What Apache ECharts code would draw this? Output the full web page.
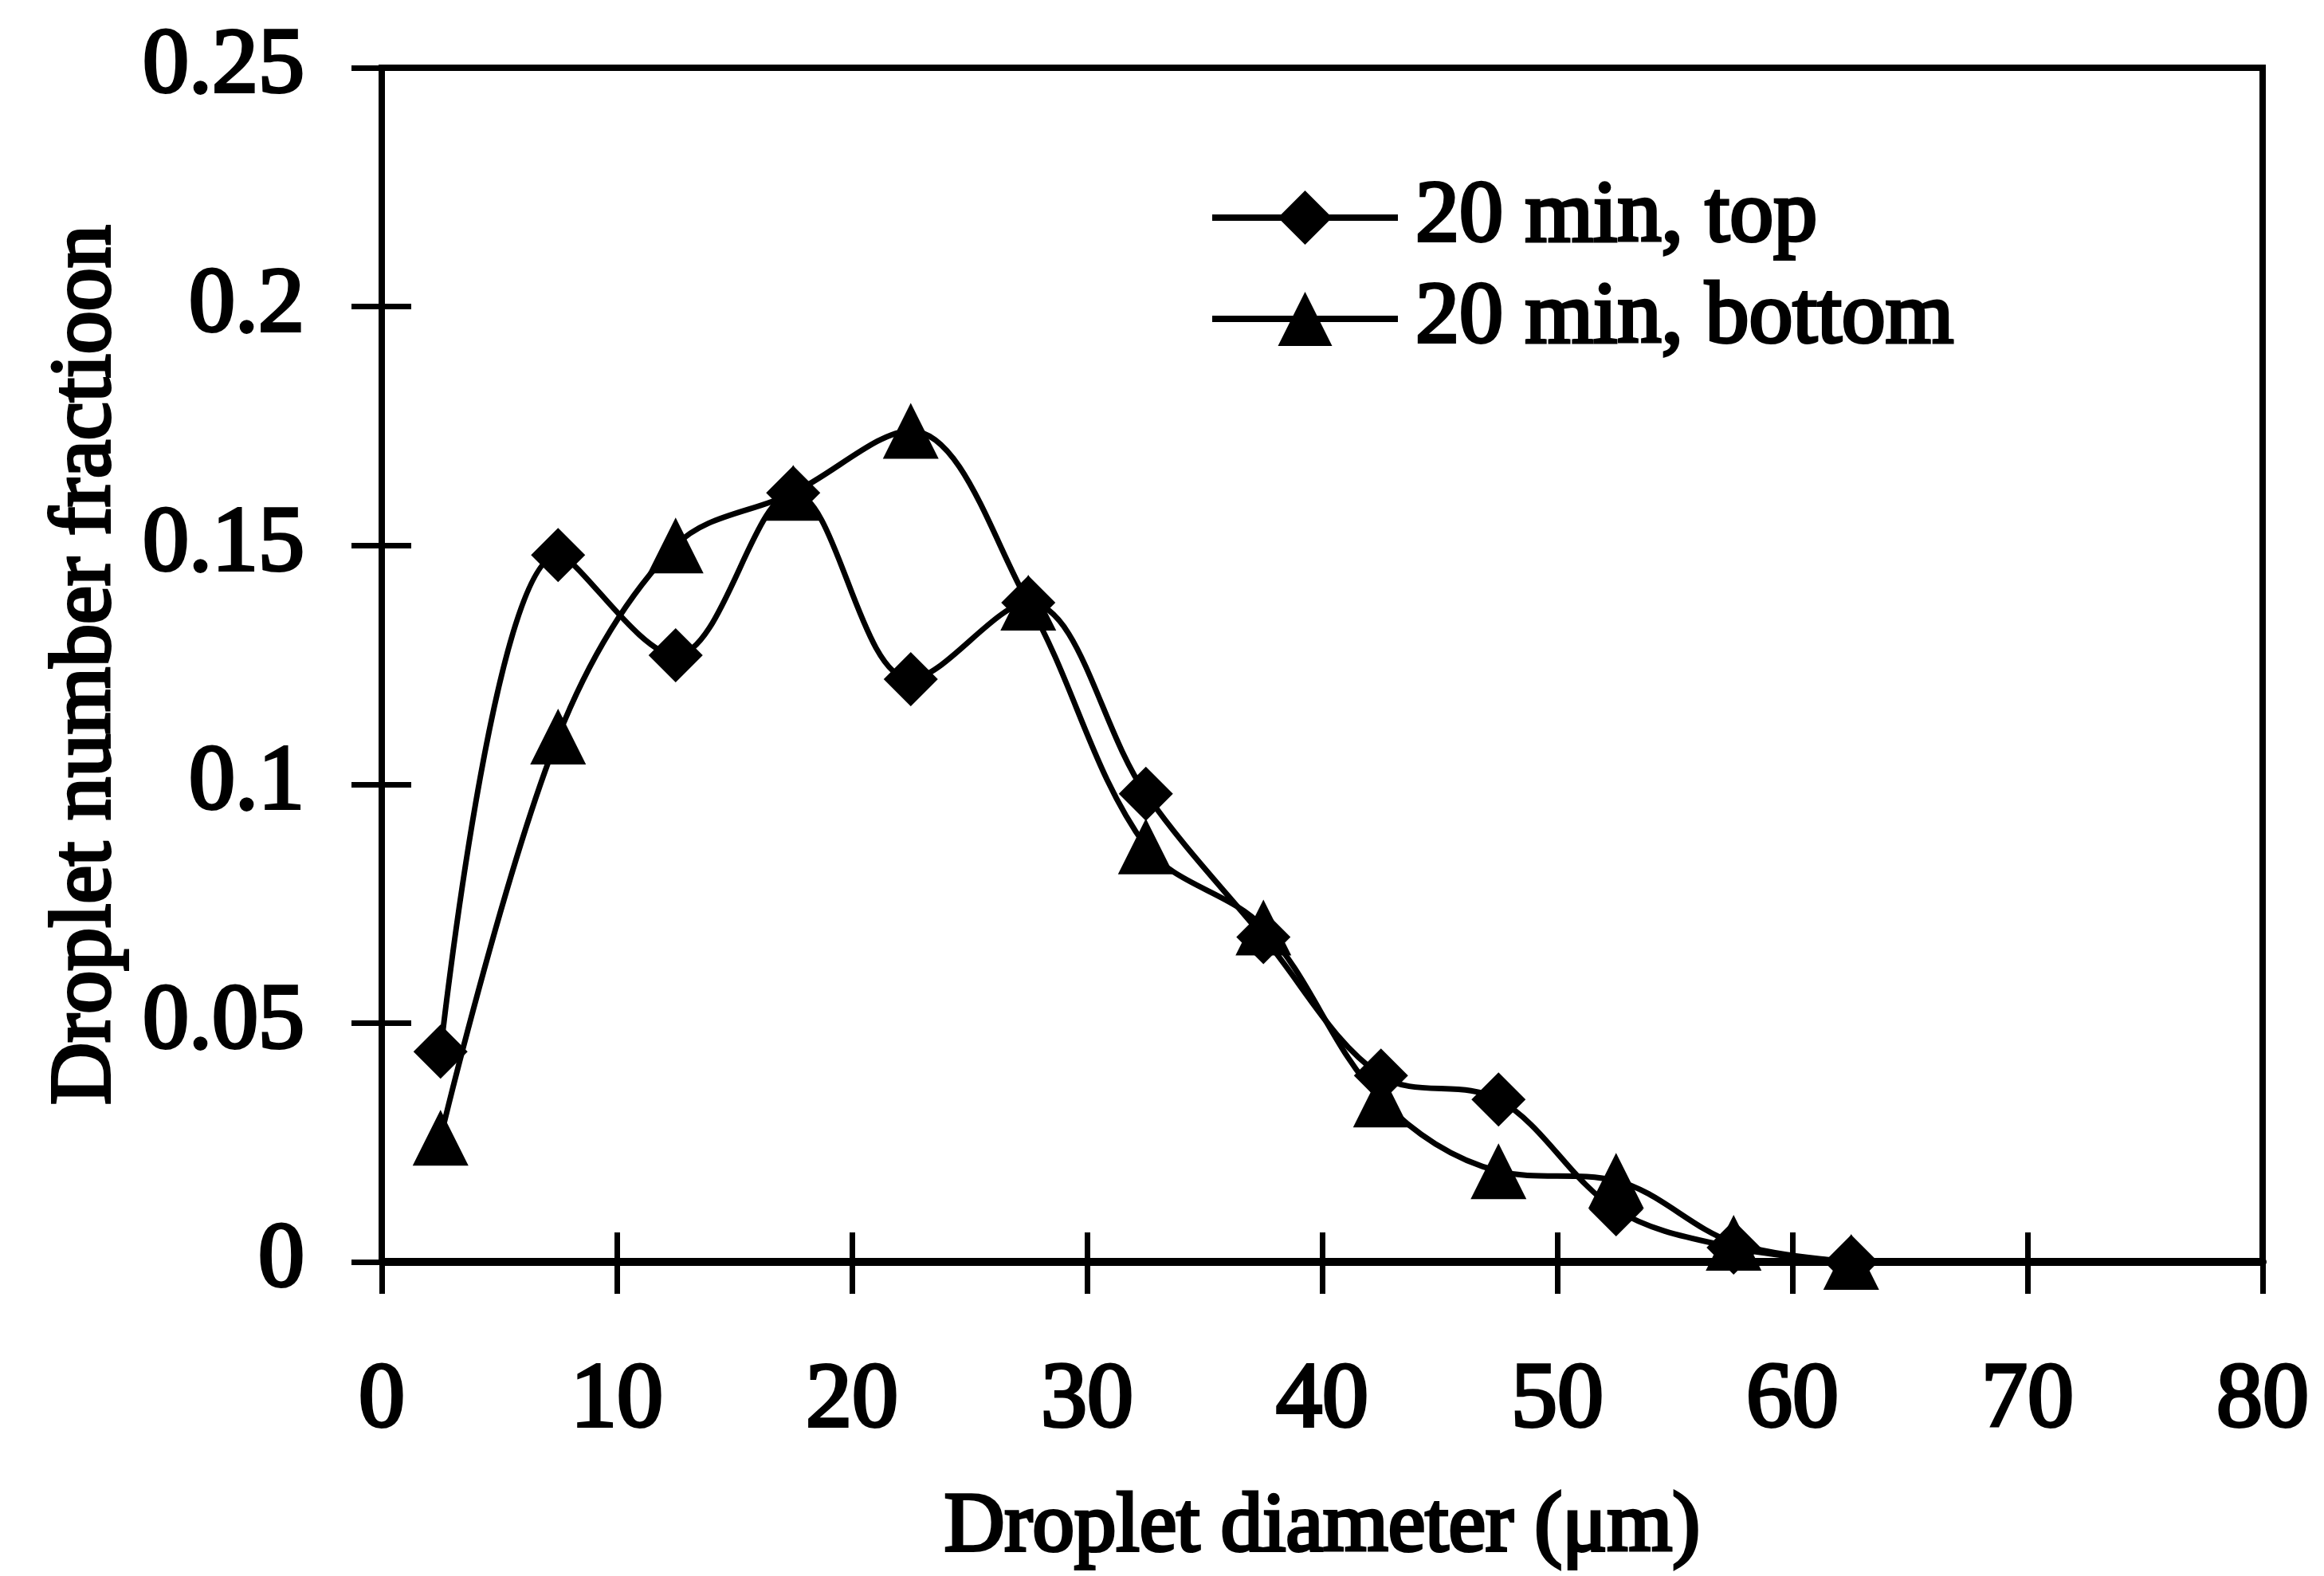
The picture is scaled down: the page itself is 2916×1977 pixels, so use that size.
<!DOCTYPE html>
<html>
<head>
<meta charset="utf-8">
<script src="https://cdn.jsdelivr.net/npm/echarts@6/dist/echarts.min.js"></script>
<style>
  html, body { margin: 0; padding: 0; background: #ffffff; }
  #chart { width: 2916px; height: 1977px; }
</style>
</head>
<body>
<div id="chart"></div>
<script>
// Droplet size classes (bin centres, µm)
const diameters = [2.5, 7.5, 12.5, 17.5, 22.5, 27.5, 32.5, 37.5, 42.5, 47.5, 52.5, 57.5, 62.5];
// Number fraction of droplets per class
const fractionTop    = [0.044, 0.148, 0.127, 0.161, 0.122, 0.138, 0.098, 0.068, 0.039, 0.034, 0.011, 0.003, 0.000];
const fractionBottom = [0.026, 0.110, 0.150, 0.161, 0.174, 0.138, 0.087, 0.070, 0.034, 0.019, 0.017, 0.004, 0.000];
const seriesNames = ['20 min, top', '20 min, bottom'];
// Axis ranges: [min, max, step]
const xRange = [0, 80, 10];
const yRange = [0, 0.25, 0.05];

const FONT = "'Liberation Serif', 'Times New Roman', serif";
const INK = '#000000';
// Heavy serif lettering: a thin outline in the text colour thickens the strokes
const heavy = { textBorderColor: INK, textBorderWidth: 4 };

const chart = echarts.init(document.getElementById('chart'), null, { renderer: 'canvas' });

const baseX = { type: 'value', min: xRange[0], max: xRange[1], interval: xRange[2], splitLine: { show: false } };
const baseY = { type: 'value', min: yRange[0], max: yRange[1], interval: yRange[2], splitLine: { show: false } };

chart.setOption({
  backgroundColor: '#ffffff',
  animation: false,
  grid: {
    left: 479, top: 85, width: 2360, height: 1498,
    show: true, borderColor: INK, borderWidth: 8, backgroundColor: 'transparent',
    outerBoundsMode: 'none'
  },
  legend: {
    orient: 'vertical',
    left: 1517, top: 216,
    padding: 0,
    itemWidth: 233, itemHeight: 85, itemGap: 13,
    lineStyle: { width: 8, color: INK },
    textStyle: Object.assign({ fontFamily: FONT, fontSize: 110, color: INK, padding: [0, 0, 0, 17] }, heavy),
    data: seriesNames
  },
  xAxis: [
    Object.assign({}, baseX, {
      position: 'bottom',
      name: 'Droplet diameter (\u03bcm)',
      nameLocation: 'middle', nameGap: 282,
      nameTextStyle: Object.assign({ fontFamily: FONT, fontSize: 105, color: INK }, heavy),
      axisLine: { show: true, lineStyle: { color: INK, width: 10 } },
      axisTick: { show: true, inside: false, length: 40, lineStyle: { color: INK, width: 7 } },
      axisLabel: Object.assign({ fontFamily: FONT, fontSize: 116, color: INK, margin: 118 }, heavy)
    }),
    Object.assign({}, baseX, {
      position: 'bottom',
      axisLine: { show: false },
      axisTick: { show: true, inside: true, length: 37, lineStyle: { color: INK, width: 7 } },
      axisLabel: { show: false }
    })
  ],
  yAxis: [
    Object.assign({}, baseY, {
      position: 'left',
      name: 'Droplet number fractioon',
      nameLocation: 'middle', nameGap: 316, nameRotate: 90,
      nameTextStyle: Object.assign({ fontFamily: FONT, fontSize: 108, color: INK }, heavy),
      axisLine: { show: true, lineStyle: { color: INK, width: 8 } },
      axisTick: { show: true, inside: false, length: 38, lineStyle: { color: INK, width: 7 } },
      axisLabel: Object.assign({ fontFamily: FONT, fontSize: 116, color: INK, margin: 97 }, heavy)
    }),
    Object.assign({}, baseY, {
      position: 'left',
      axisLine: { show: false },
      axisTick: { show: true, inside: true, length: 37, lineStyle: { color: INK, width: 7 } },
      axisLabel: { show: false }
    })
  ],
  series: [
    {
      name: seriesNames[0], type: 'line', xAxisIndex: 0, yAxisIndex: 0,
      data: diameters.map((d, i) => [d, fractionTop[i]]),
      smooth: 0.35,
      symbol: 'diamond', symbolSize: 68, showAllSymbol: true,
      lineStyle: { color: INK, width: 7 },
      itemStyle: { color: INK, borderWidth: 0 },
      z: 3
    },
    {
      name: seriesNames[1], type: 'line', xAxisIndex: 0, yAxisIndex: 0,
      data: diameters.map((d, i) => [d, fractionBottom[i]]),
      smooth: 0.35,
      symbol: 'triangle', symbolSize: 70, showAllSymbol: true,
      lineStyle: { color: INK, width: 7 },
      itemStyle: { color: INK, borderWidth: 0 },
      z: 3
    }
  ]
});
</script>
</body>
</html>
